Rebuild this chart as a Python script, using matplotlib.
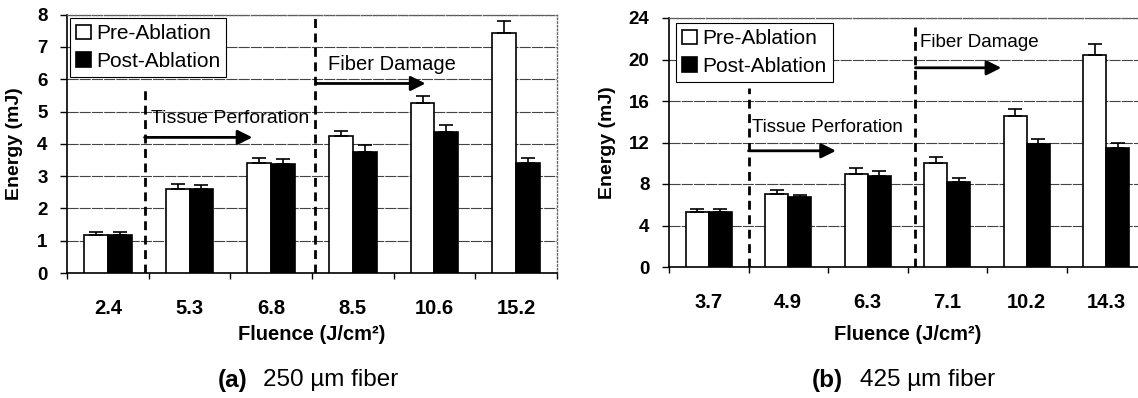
import numpy as np
import matplotlib.pyplot as plt

plt.rcParams['font.family'] = ['Liberation Sans', 'DejaVu Sans']

# Panel (a): 250 um fiber
fluence_a = ['2.4', '5.3', '6.8', '8.5', '10.6', '15.2']
pre_a = [1.18, 2.60, 3.41, 4.23, 5.25, 7.44]
pre_a_err = [0.09, 0.17, 0.15, 0.18, 0.23, 0.37]
post_a = [1.18, 2.60, 3.38, 3.74, 4.38, 3.40]
post_a_err = [0.09, 0.13, 0.14, 0.21, 0.21, 0.16]

# Panel (b): 425 um fiber
fluence_b = ['3.7', '4.9', '6.3', '7.1', '10.2', '14.3']
pre_b = [5.30, 7.05, 9.00, 10.05, 14.60, 20.40]
pre_b_err = [0.30, 0.40, 0.55, 0.55, 0.65, 1.05]
post_b = [5.33, 6.70, 8.80, 8.20, 11.85, 11.50]
post_b_err = [0.27, 0.28, 0.50, 0.38, 0.50, 0.50]

fig = plt.figure(figsize=(11.38, 3.98), dpi=100)
W, H = 1138.0, 398.0


def panel(rect, cats, pre, pre_err, post, post_err, ymax, ystep,
          dash1, dash2, tissue, fiber, legend_at, ylab_x, xlab_y, caption):
    ax = fig.add_axes(rect)
    x = np.arange(len(cats))
    w = 0.29
    zeros = np.zeros(len(cats))
    ax.bar(x - w / 2, pre, w, color='white', edgecolor='black', lw=1.2,
           zorder=3, label='Pre-Ablation')
    ax.bar(x + w / 2, post, w, color='black', edgecolor='black', lw=1.2,
           zorder=3, label='Post-Ablation')
    ax.errorbar(x - w / 2, pre, yerr=[zeros, pre_err], fmt='none', ecolor='black',
                elinewidth=1.2, capsize=5, capthick=1.2, zorder=4)
    ax.errorbar(x + w / 2, post, yerr=[zeros, post_err], fmt='none', ecolor='black',
                elinewidth=1.2, capsize=5, capthick=1.2, zorder=4)

    ax.set_xlim(-0.5, len(cats) - 0.5)
    ax.set_ylim(0, ymax)
    ax.set_yticks(np.arange(0, ymax + 0.1, ystep))
    ax.yaxis.grid(True, color='#444444', lw=0.8, ls=(0, (10, 1)), zorder=0)
    ax.set_axisbelow(True)

    ax.set_xticks(x)
    ax.set_xticklabels(cats, fontsize=14.5, fontweight='bold')
    ax.set_xticks(np.arange(-0.5, len(cats)), minor=True)
    ax.tick_params(axis='x', which='major', length=0, pad=19)
    ax.tick_params(axis='x', which='minor', length=4.5, width=1, direction='out')
    ax.tick_params(axis='y', length=5, width=1, direction='out', pad=9,
                   labelsize=13.5)
    for lab in ax.get_yticklabels():
        lab.set_fontweight('bold')

    for s in ['left', 'bottom']:
        ax.spines[s].set_linewidth(1.2)
    for s in ['top', 'right']:
        ax.spines[s].set_linestyle(':')
        ax.spines[s].set_color('#666666')
        ax.spines[s].set_linewidth(1)

    # region markers
    ax.plot([dash1[0], dash1[0]], [0, dash1[1]], color='black', lw=2,
            ls=(0, (3.2, 2)), zorder=5)
    ax.plot([dash2[0], dash2[0]], [0, dash2[1]], color='black', lw=2,
            ls=(0, (3.2, 2)), zorder=5)
    for (x0, x1, ya, tx, ty, txt, tfs) in [tissue, fiber]:
        ax.annotate('', xy=(x1, ya), xytext=(x0, ya),
                    arrowprops=dict(arrowstyle='-|>', lw=2, color='black',
                                    mutation_scale=22, shrinkA=0, shrinkB=0),
                    zorder=6)
        ax.text(tx, ty, txt, fontsize=tfs, ha='left', va='center', zorder=6)

    leg = ax.legend(loc='upper left', bbox_to_anchor=legend_at, borderaxespad=0,
                    fontsize=15, frameon=True, fancybox=False, framealpha=1,
                    edgecolor='black', handlelength=0.7, handleheight=0.7,
                    handletextpad=0.25, labelspacing=0.4, borderpad=0.3)
    leg.get_frame().set_linewidth(0.8)
    leg.set_zorder(7)

    ax.set_ylabel('Energy (mJ)', fontsize=14, fontweight='bold')
    ax.yaxis.set_label_coords(ylab_x, 0.5)
    ax.set_xlabel('Fluence (J/cm²)', fontsize=14.5, fontweight='bold', va='center')
    ax.xaxis.set_label_coords(0.5, xlab_y)

    fig.text(caption[0] / W, 1 - 380 / H, caption[1], fontsize=17.5,
             fontweight='bold', ha='left', va='center')
    fig.text(caption[2] / W, 1 - 380 / H, caption[3], fontsize=17.5,
             ha='left', va='center')
    return ax


# axes rectangles from pixel bounds
ax_a = panel([67 / W, 1 - 273 / H, 490 / W, (273 - 14.7) / H],
             fluence_a, pre_a, pre_a_err, post_a, post_a_err, 8, 1,
             (0.45, 5.8), (2.54, 8),
             (0.45, 1.77, 4.2, 0.53, 4.78, 'Tissue Perforation', 14),
             (2.54, 3.89, 5.87, 2.7, 6.45, 'Fiber Damage', 14.5),
             (0.006, 0.987), -0.09, -0.24,
             (218, '(a)', 263, '250 µm fiber'))

ax_b = panel([669 / W, 1 - 267 / H, 477 / W, (267 - 18) / H],
             fluence_b, pre_b, pre_b_err, post_b, post_b_err, 24, 4,
             (0.5, 17.3), (2.6, 23.5),
             (0.5, 1.6, 11.2, 0.55, 13.4, 'Tissue Perforation', 13.5),
             (2.6, 3.68, 19.2, 2.66, 21.6, 'Fiber Damage', 13.5),
             (0.0147, 0.98), -0.111, -0.273,
             (812, '(b)', 860, '425 µm fiber'))

fig.savefig('out.png', dpi=100)
